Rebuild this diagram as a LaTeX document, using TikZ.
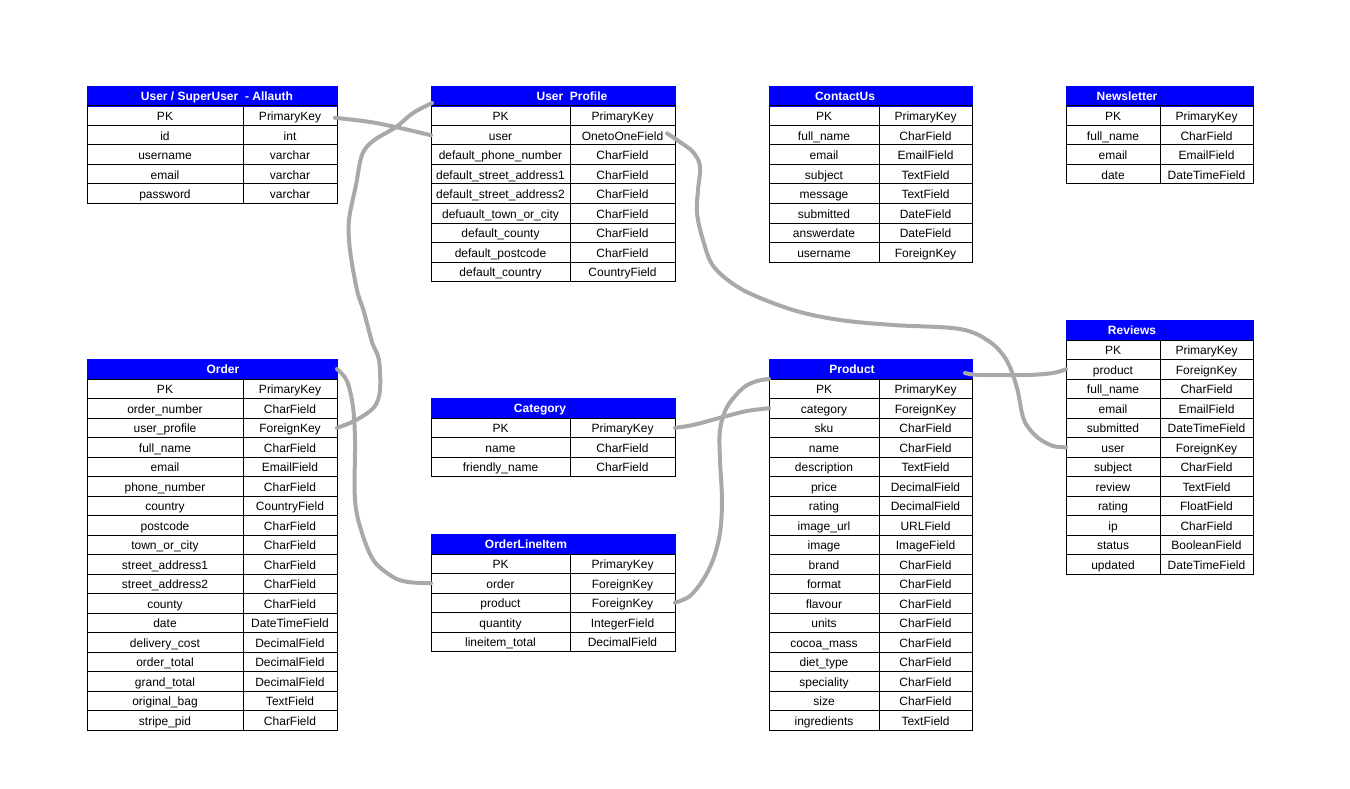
\documentclass[tikz,border=0pt]{standalone}
\usepackage{fontspec}
\setmainfont{Liberation Sans}
\usetikzlibrary{calc}
\definecolor{hdrblue}{HTML}{0000FF}
\definecolor{conngray}{HTML}{A9A9AB}
\tikzset{
  cell/.style={draw=black, line width=1pt, inner sep=0pt, outer sep=0pt,
    minimum height=19.5pt, text height=11.3pt, text depth=1.3pt, anchor=north west, font=\fontsize{12}{14}\selectfont},
  hdrbox/.style={fill=hdrblue, draw=hdrblue, line width=0.5pt, inner sep=0pt, outer sep=0pt,
    minimum height=20pt, anchor=north west},
  hdrtitle/.style={text=white, inner sep=0pt, text height=10.5pt, text depth=2pt, font=\bfseries\fontsize{12}{14}\selectfont},
  conn/.style={draw=conngray, line width=4pt, line cap=round, line join=round},
}
% #1 name, #2 x left, #3 x divider, #4 x right, #5 y top, #6 title, #7 title x, #8 rows
\newcommand\erdtable[8]{%
  \node[hdrbox, minimum width={#4pt-#2pt}] (#1-h) at (#2,#5) {};
  \node[hdrtitle] (#1-t) at (#7,{#5+10.5}) {#6};
  \foreach \a/\b [count=\i] in {#8} {
    \node[cell, minimum width={#3pt-#2pt}] (#1-a\i) at (#2,{#5+20+(\i-1)*19.5}) {\a};
    \node[cell, minimum width={#4pt-#3pt}] (#1-b\i) at (#3,{#5+20+(\i-1)*19.5}) {\b};
  }
}
\begin{document}
\begin{tikzpicture}[x=1pt,y=-1pt]
\useasboundingbox[fill=white] (0,0) rectangle (1350,789);

\erdtable{usr}{87}{243}{337}{86}{User / SuperUser\ \ - Allauth}{217}{PK/PrimaryKey, id/int, username/varchar, email/varchar, password/varchar}

\erdtable{up}{431}{570}{675}{86}{User\ \ Profile}{572}{PK/PrimaryKey, user/OnetoOneField, default\_phone\_number/CharField, default\_street\_address1/CharField, default\_street\_address2/CharField, defuault\_town\_or\_city/CharField, default\_county/CharField, default\_postcode/CharField, default\_country/CountryField}

\erdtable{cu}{769}{879}{972}{86}{ContactUs}{845}{PK/PrimaryKey, full\_name/CharField, email/EmailField, subject/TextField, message/TextField, submitted/DateField, answerdate/DateField, username/ForeignKey}

\erdtable{nl}{1066}{1160}{1253}{86}{Newsletter}{1127}{PK/PrimaryKey, full\_name/CharField, email/EmailField, date/DateTimeField}

\erdtable{ord}{87}{243}{337}{359}{Order}{223}{PK/PrimaryKey, order\_number/CharField, user\_profile/ForeignKey, full\_name/CharField, email/EmailField, phone\_number/CharField, country/CountryField, postcode/CharField, town\_or\_city/CharField, street\_address1/CharField, street\_address2/CharField, county/CharField, date/DateTimeField, delivery\_cost/DecimalField, order\_total/DecimalField, grand\_total/DecimalField, original\_bag/TextField, stripe\_pid/CharField}

\erdtable{cat}{431}{570}{675}{398}{Category}{540}{PK/PrimaryKey, name/CharField, friendly\_name/CharField}

\erdtable{oli}{431}{570}{675}{534}{OrderLineItem}{526}{PK/PrimaryKey, order/ForeignKey, product/ForeignKey, quantity/IntegerField, lineitem\_total/DecimalField}

\erdtable{prod}{769}{879}{972}{359}{Product}{852}{PK/PrimaryKey, category/ForeignKey, sku/CharField, name/CharField, description/TextField, price/DecimalField, rating/DecimalField, image\_url/URLField, image/ImageField, brand/CharField, format/CharField, flavour/CharField, units/CharField, cocoa\_mass/CharField, diet\_type/CharField, speciality/CharField, size/CharField, ingredients/TextField}

\erdtable{rev}{1066}{1160}{1253}{320}{Reviews}{1132}{PK/PrimaryKey, product/ForeignKey, full\_name/CharField, email/EmailField, submitted/DateTimeField, user/ForeignKey, subject/CharField, review/TextField, rating/FloatField, ip/CharField, status/BooleanField, updated/DateTimeField}

% connectors
\coordinate (c1s) at ($(usr-b1.east)+(-2,2)$);
\coordinate (c2s) at ($(up-h.south west)+(1,-3)$);
\coordinate (c6s) at ($(up-b2.east)+(-8,-2)$);
\coordinate (c7s) at ($(prod-h.east)+(-7,4)$);

\draw[conn] plot[smooth, tension=0.55] coordinates {(c1s) (370,122) (400,128) (up-a2.west)};
\draw[conn] plot[smooth, tension=0.55] coordinates {(c2s) (413,113) (396,127) (373,141) (362,155) (356,185) (349,220) (350,250) (357,290) (364,312) (372,342) (379,360) (380,390) (375,406) (363,416) (350,423) (ord-b3.east)};
\draw[conn] plot[smooth, tension=0.55] coordinates {(ord-h.east) (347,381) (353,407) (355,440) (355,500) (362,533) (374,561) (393,577) (408,582) (oli-a2.west)};
\draw[conn] plot[smooth, tension=0.55] coordinates {(cat-b1.east) (693,425) (723,417) (747,411) (prod-a2.west)};
\draw[conn] plot[smooth, tension=0.55] coordinates {(oli-b3.east) (690,596) (703,580) (713,560) (720,533) (722,500) (720,460) (720,430) (727,407) (743,388) (757,381) (prod-h.south west)};
\draw[conn] plot[smooth, tension=0.55] coordinates {(c6s) (680,142) (693,152) (700,166) (698,190) (697,213) (703,240) (714,267) (743,290) (793,310) (840,320) (893,325) (960,329) (990,342) (1007,361) (1017,388) (1024,420) (1037,437) (1053,446) (rev-a6.west)};
\draw[conn] plot[smooth, tension=0.55] coordinates {(c7s) (980,375) (1027,375) (1053,373) (rev-a2.west)};
\end{tikzpicture}
\end{document}
